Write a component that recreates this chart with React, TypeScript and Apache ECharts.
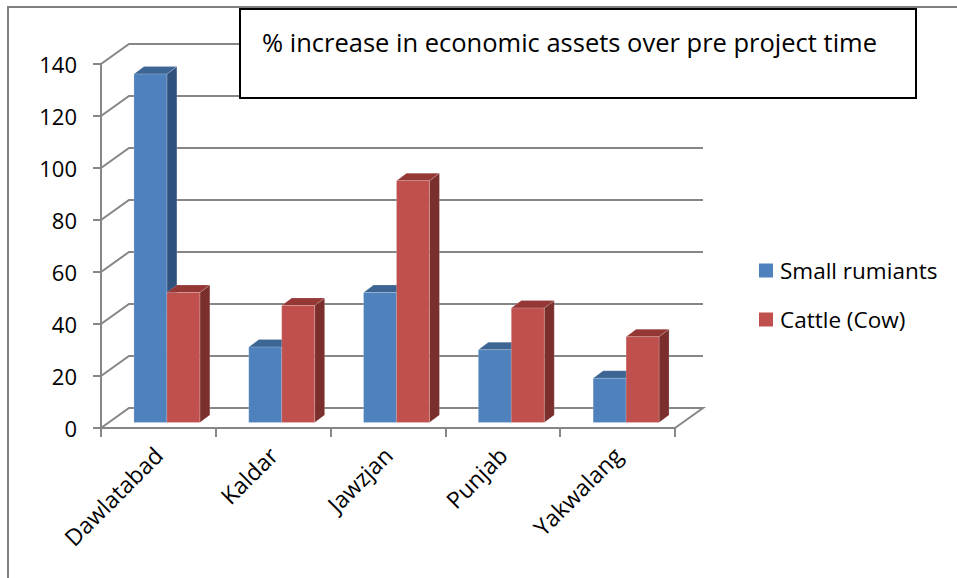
import React, { useEffect, useRef } from "react";
import * as echarts from "echarts";

const categories = ["Dawlatabad", "Kaldar", "Jawzjan", "Punjab", "Yakwalang"];
const smallRuminants = [134, 29, 50, 28, 17];
const cattle = [50, 45, 93, 44, 33];
const yTicks = [0, 20, 40, 60, 80, 100, 120, 140];
const seriesNames = ["Small rumiants", "Cattle (Cow)"];
const titleText = "% increase in economic assets over pre project time";

const FONT = "Open Sans";
const WALL_DX = 28;
const WALL_DY = -20;
const BAR_FX = 8.5;
const BAR_FY = -5.5;
const BAR_DX = 10;
const BAR_DY = -7.5;
const BAR_W_RATIO = 0.287;

const palettes = [
  { front: "#4F81BD", top: "#3C6594", side: "#31517D" },
  { front: "#C0504D", top: "#953735", side: "#7B2F2D" },
];

function makeBarRender(seriesIdx: number) {
  return (params: any, api: any) => {
    const i = api.value(0);
    const v = api.value(1);
    const top = api.coord([i, v]);
    const base = api.coord([i, 0]);
    const bw = api.size([1, 0])[0];
    const w = bw * BAR_W_RATIO;
    const x0 = top[0] + BAR_FX + (seriesIdx === 0 ? -w : 0);
    const x1 = x0 + w;
    const y0 = base[1] + BAR_FY;
    const y1 = top[1] + BAR_FY;
    const p = palettes[seriesIdx];
    return {
      type: "group",
      children: [
        {
          type: "polygon",
          shape: { points: [[x1, y0], [x1 + BAR_DX, y0 + BAR_DY], [x1 + BAR_DX, y1 + BAR_DY], [x1, y1]] },
          style: { fill: p.side, stroke: "rgba(255,255,255,0.35)", lineWidth: 0.5 },
        },
        {
          type: "polygon",
          shape: { points: [[x0, y1], [x0 + BAR_DX, y1 + BAR_DY], [x1 + BAR_DX, y1 + BAR_DY], [x1, y1]] },
          style: { fill: p.top, stroke: "rgba(255,255,255,0.35)", lineWidth: 0.5 },
        },
        {
          type: "rect",
          shape: { x: x0, y: y1, width: w, height: y0 - y1 },
          style: { fill: p.front, stroke: "rgba(255,255,255,0.35)", lineWidth: 0.5 },
        },
      ],
    };
  };
}

function renderGrid(params: any, api: any) {
  const cs = params.coordSys;
  const v = api.value(0);
  const y = api.coord([0, v])[1];
  const pts: number[][] = [
    [cs.x, y],
    [cs.x + WALL_DX, y + WALL_DY],
    [cs.x + cs.width + WALL_DX, y + WALL_DY],
  ];
  if (v === 0) pts.push([cs.x + cs.width, y]);
  return {
    type: "polyline",
    shape: { points: pts },
    style: { stroke: "#868686", lineWidth: 2, fill: "none" },
  };
}

export default function App() {
  const ref = useRef<HTMLDivElement>(null);
  useEffect(() => {
    if (!ref.current) return;
    const chart = echarts.init(ref.current, null, { renderer: "svg" });
    chart.setOption({
      animation: false,
      backgroundColor: "#ffffff",
      grid: { left: 101, right: 282, top: 64, bottom: 150, containLabel: false },
      legend: {
        data: seriesNames,
        orient: "vertical",
        left: 759,
        top: 259,
        padding: 0,
        itemWidth: 14,
        itemHeight: 14,
        itemGap: 26,
        icon: "rect",
        textStyle: { fontFamily: FONT, fontSize: 22.5, lineHeight: 22, color: "#000", padding: [0, 0, 0, 2] },
      },
      xAxis: {
        type: "category",
        data: categories,
        boundaryGap: true,
        axisLine: { lineStyle: { color: "#868686", width: 2 } },
        axisTick: { show: true, length: 9, lineStyle: { color: "#868686", width: 2 } },
        axisLabel: {
          rotate: 45,
          interval: 0,
          margin: 23,
          padding: [14, 0, 0, 0],
          fontFamily: FONT,
          fontSize: 23,
          color: "#000",
        },
        splitLine: { show: false },
      },
      yAxis: {
        type: "value",
        min: 0,
        max: 140,
        interval: 20,
        axisLine: { show: true, lineStyle: { color: "#868686", width: 2 } },
        axisTick: { show: true, length: 8, lineStyle: { color: "#868686", width: 2 } },
        axisLabel: { margin: 24, fontFamily: FONT, fontSize: 22, color: "#000" },
        splitLine: { show: false },
      },
      series: [
        {
          type: "custom",
          name: "grid3d",
          clip: false,
          z: 1,
          silent: true,
          renderItem: renderGrid,
          encode: { y: 0 },
          data: yTicks.map((t) => [t]),
        },
        {
          type: "custom",
          name: seriesNames[0],
          clip: false,
          z: 3,
          itemStyle: { color: palettes[0].front },
          renderItem: makeBarRender(0),
          encode: { x: 0, y: 1 },
          data: smallRuminants.map((v, i) => [i, v]),
        },
        {
          type: "custom",
          name: seriesNames[1],
          clip: false,
          z: 3,
          itemStyle: { color: palettes[1].front },
          renderItem: makeBarRender(1),
          encode: { x: 0, y: 1 },
          data: cattle.map((v, i) => [i, v]),
        },
      ],
      graphic: [
        {
          type: "polyline",
          z: 10,
          silent: true,
          shape: { points: [[8, 578], [8, 7], [957, 7]] },
          style: { stroke: "#808080", lineWidth: 2, fill: "none" },
        },
        {
          type: "rect",
          z: 20,
          silent: true,
          shape: { x: 240, y: 9, width: 676, height: 89 },
          style: { fill: "#ffffff", stroke: "#000000", lineWidth: 2 },
        },
        {
          type: "text",
          z: 21,
          silent: true,
          x: 262,
          y: 42,
          style: {
            text: titleText,
            fontFamily: FONT,
            fontSize: 25.5,
            fill: "#000",
            textAlign: "left",
            textVerticalAlign: "middle",
          },
        },
      ],
    });
    return () => chart.dispose();
  }, []);
  return <div ref={ref} style={{ position: "fixed", left: 0, top: 0, width: 957, height: 578 }} />;
}
